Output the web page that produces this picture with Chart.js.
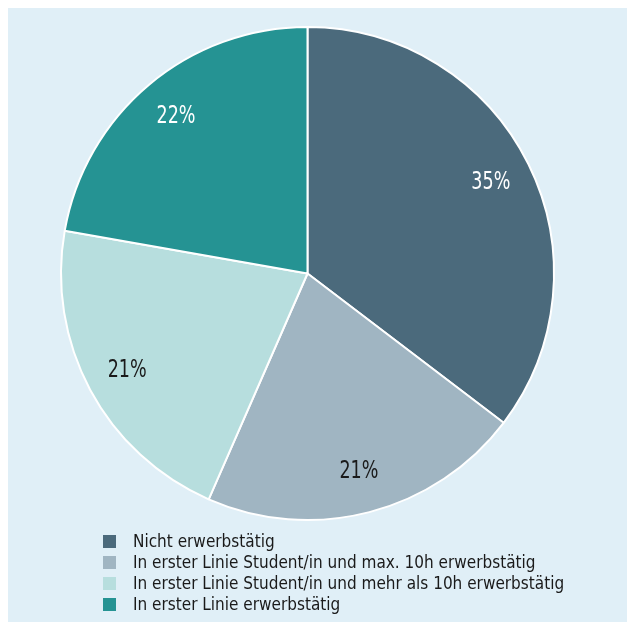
<!DOCTYPE html>
<html lang="de">
<head>
  <meta charset="UTF-8">
  <meta name="viewport" content="width=device-width, initial-scale=1.0">
  <title>Erwerbstätigkeit</title>
  <style>
    html, body { margin: 0; padding: 0; background: #ffffff; overflow: hidden; }
    #panel {
      position: absolute; left: 8px; top: 8px; right: 0; bottom: 0;
      background: #e0eff7;
    }
    #wrap { position: absolute; left: 0; top: 0; width: 627px; height: 622px; }
  </style>
</head>
<body>
  <div id="panel"></div>
  <div id="wrap">
    <canvas id="grafico"></canvas>
  </div>

  <script src="https://cdn.jsdelivr.net/npm/chart.js"></script>
  <script>
    const kategorien = [
      'Nicht erwerbstätig',
      'In erster Linie Student/in und max. 10h erwerbstätig',
      'In erster Linie Student/in und mehr als 10h erwerbstätig',
      'In erster Linie erwerbstätig'
    ];
    const anteile = [35, 21, 21, 22];
    const farben = ['#4b6a7c', '#a0b5c2', '#b7dede', '#259393'];
    const textFarben = ['#ffffff', '#1a1a1a', '#1a1a1a', '#ffffff'];

    const schrift = '"DejaVu Sans Condensed", "DejaVu Sans", sans-serif';

    // schmal gestauchter Text
    function schmalerText(ctx, text, x, y, stauchung) {
      ctx.save();
      ctx.translate(x, y);
      ctx.scale(stauchung, 1);
      ctx.fillText(text, 0, 0);
      ctx.restore();
    }

    // Prozentwerte innerhalb der Segmente
    const segmentLabels = {
      id: 'segmentLabels',
      afterDatasetsDraw(chart) {
        const ctx = chart.ctx;
        const meta = chart.getDatasetMeta(0);
        ctx.save();
        ctx.font = '25px ' + schrift;
        ctx.textAlign = 'center';
        ctx.textBaseline = 'middle';
        meta.data.forEach((arc, i) => {
          const p = arc.getProps(['x', 'y', 'startAngle', 'endAngle', 'outerRadius']);
          const mitte = (p.startAngle + p.endAngle) / 2;
          const r = p.outerRadius * 0.83;
          ctx.fillStyle = textFarben[i];
          schmalerText(ctx, anteile[i] + '%', p.x + Math.cos(mitte) * r, p.y + Math.sin(mitte) * r, 0.78);
        });
        ctx.restore();
      }
    };

    // Legende untereinander, links ausgerichtet
    const legendeListe = {
      id: 'legendeListe',
      afterDraw(chart) {
        const ctx = chart.ctx;
        const zeilen = [541, 562, 583, 604];
        ctx.save();
        ctx.font = '18px ' + schrift;
        ctx.textBaseline = 'middle';
        kategorien.forEach((name, i) => {
          ctx.fillStyle = farben[i];
          ctx.fillRect(103, zeilen[i] - 6, 13, 13);
          ctx.fillStyle = '#1a1a1a';
          schmalerText(ctx, name, 133, zeilen[i] + 1, 0.945);
        });
        ctx.restore();
      }
    };

    const grafico = new Chart(document.querySelector('#grafico'), {
      type: 'pie',
      data: {
        labels: kategorien,
        datasets: [{
          data: anteile,
          backgroundColor: farben,
          borderColor: '#ffffff',
          borderWidth: 2
        }]
      },
      options: {
        responsive: true,
        maintainAspectRatio: false,
        animation: false,
        layout: { padding: { left: 60, top: 26, right: 72, bottom: 101 } },
        plugins: {
          legend: { display: false },
          tooltip: { enabled: false }
        }
      },
      plugins: [segmentLabels, legendeListe]
    });
  </script>
</body>
</html>
